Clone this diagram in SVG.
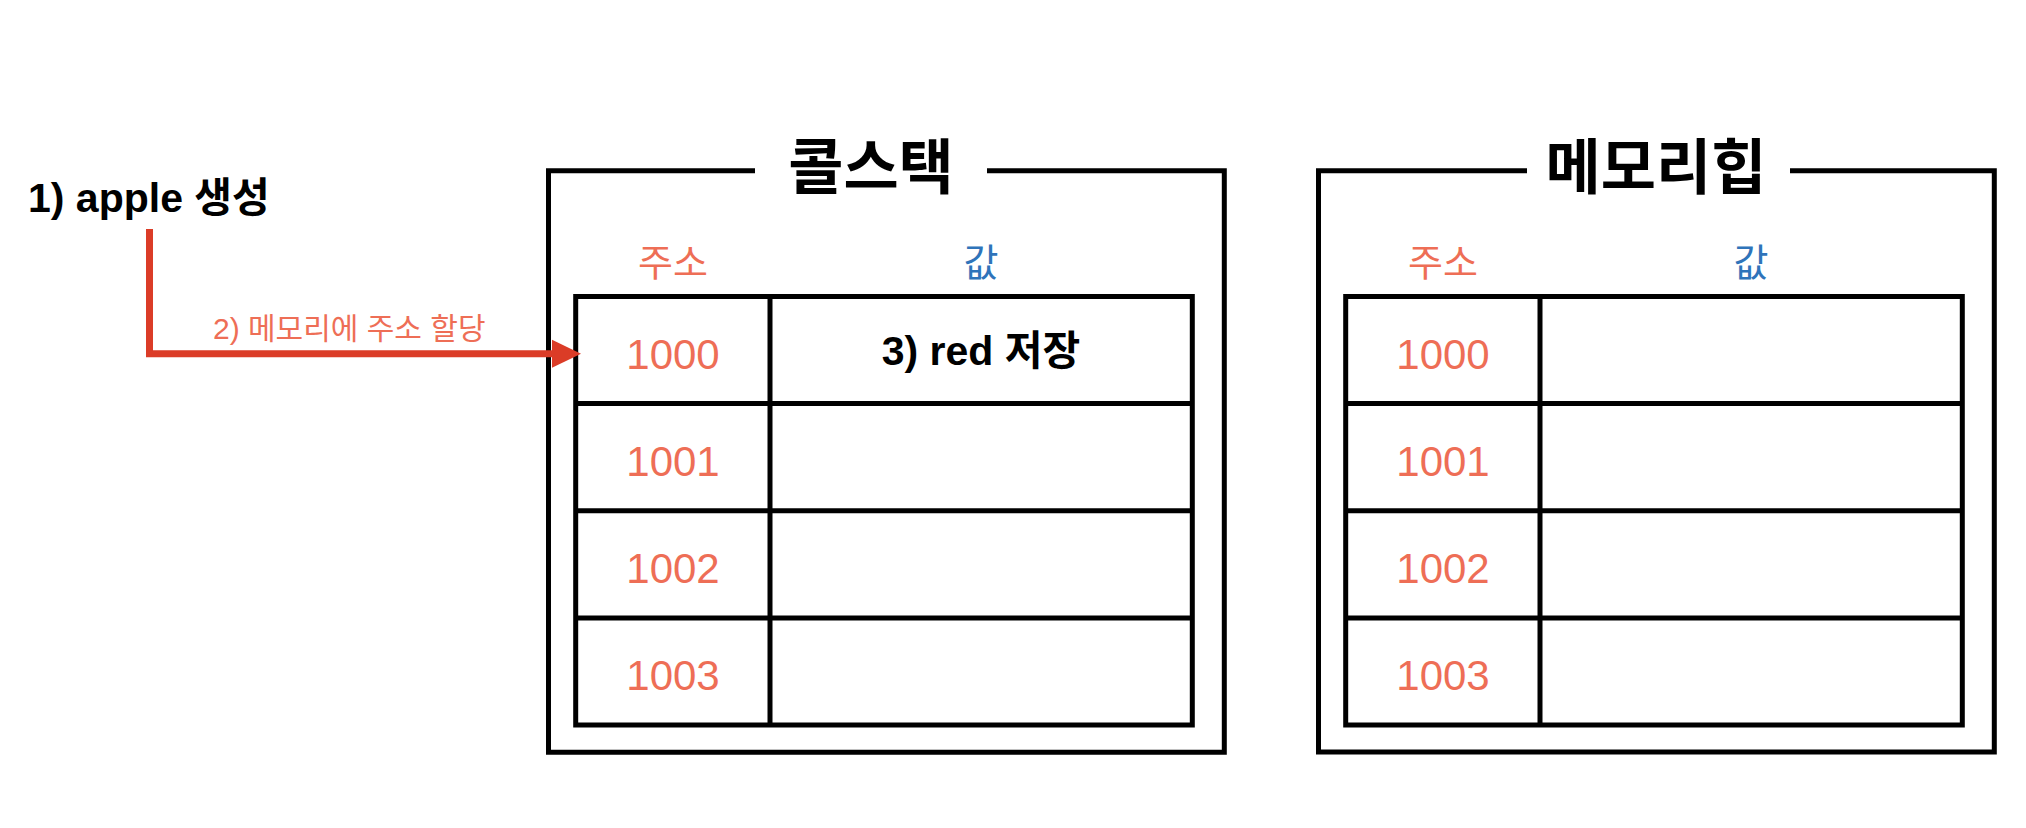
<svg xmlns="http://www.w3.org/2000/svg" width="2026" height="828" viewBox="0 0 2026 828">
<defs>
<style>
.box{fill:none;stroke:#000;stroke-width:5;stroke-linejoin:miter}
.tbl{fill:none;stroke:#000;stroke-width:5}
.title{font-family:"Noto Sans CJK KR","Liberation Sans",sans-serif;font-weight:700;font-size:60px;fill:#000;text-anchor:middle}
.hdr{font-family:"Liberation Sans","Noto Sans CJK KR",sans-serif;font-size:38px;text-anchor:middle}
.addr{font-family:"Liberation Sans","Noto Sans CJK KR",sans-serif;font-size:42px;fill:#EE6E56;text-anchor:middle}
.bold{font-family:"Liberation Sans","Noto Sans CJK KR",sans-serif;font-weight:700;fill:#000}
</style>
<marker id="ah" markerUnits="userSpaceOnUse" markerWidth="30" markerHeight="30" refX="0" refY="15" orient="auto">
<path d="M0,1 L29,15 L0,29 Z" fill="#DB3C27"/>
</marker>
</defs>
<rect width="2026" height="828" fill="#fff"/>

<g id="stack">
<path class="box" d="M755,170.7 H548.5 V752.3 H1224.3 V170.7 H987"/>
<text class="title" x="871" y="189">콜스택</text>
<text class="hdr" x="673" y="276" fill="#EE6E56">주소</text>
<text class="hdr" x="981" y="276" fill="#2F74BA">값</text>
<rect class="tbl" x="575.7" y="296.5" width="616.6" height="428.5"/>
<line class="tbl" x1="770" y1="296.5" x2="770" y2="725"/>
<line class="tbl" x1="575.7" y1="403.6" x2="1192.3" y2="403.6"/>
<line class="tbl" x1="575.7" y1="510.8" x2="1192.3" y2="510.8"/>
<line class="tbl" x1="575.7" y1="617.9" x2="1192.3" y2="617.9"/>
<text class="addr" x="673" y="369">1000</text>
<text class="addr" x="673" y="476">1001</text>
<text class="addr" x="673" y="583">1002</text>
<text class="addr" x="673" y="690">1003</text>
<text class="bold" x="981" y="365" font-size="41" text-anchor="middle">3) red 저장</text>
</g>

<g id="heap">
<path class="box" d="M1527,170.7 H1318.5 V752 H1994.3 V170.7 H1790"/>
<text class="title" x="1656" y="189">메모리힙</text>
<text class="hdr" x="1443" y="276" fill="#EE6E56">주소</text>
<text class="hdr" x="1751" y="276" fill="#2F74BA">값</text>
<rect class="tbl" x="1345.7" y="296.5" width="616.6" height="428.5"/>
<line class="tbl" x1="1540" y1="296.5" x2="1540" y2="725"/>
<line class="tbl" x1="1345.7" y1="403.6" x2="1962.3" y2="403.6"/>
<line class="tbl" x1="1345.7" y1="510.8" x2="1962.3" y2="510.8"/>
<line class="tbl" x1="1345.7" y1="617.9" x2="1962.3" y2="617.9"/>
<text class="addr" x="1443" y="369">1000</text>
<text class="addr" x="1443" y="476">1001</text>
<text class="addr" x="1443" y="583">1002</text>
<text class="addr" x="1443" y="690">1003</text>
</g>

<g id="apple">
<text class="bold" x="28" y="212" font-size="41">1) apple 생성</text>
</g>

<g id="connectors">
<path d="M149.5,229 V353.7 H552" fill="none" stroke="#DB3C27" stroke-width="7" marker-end="url(#ah)"/>
<text x="213" y="339" font-family="Liberation Sans, Noto Sans CJK KR, sans-serif" font-size="30" fill="#EE6E56">2) 메모리에 주소 할당</text>
</g>
</svg>
